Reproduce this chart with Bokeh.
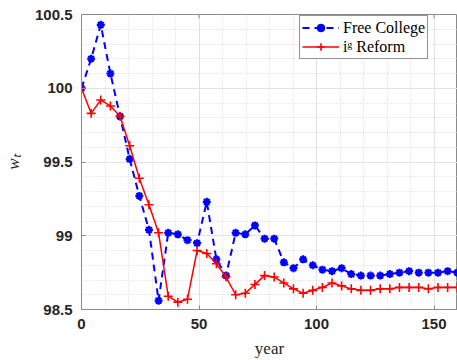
from bokeh.plotting import figure
from bokeh.models import FixedTicker, Range1d, Legend, LegendItem
from bokeh.embed import file_html
from bokeh.resources import INLINE

# ---- data ----
years = [0.0, 4.1, 8.2, 12.3, 16.4, 20.5, 24.6, 28.7, 32.8, 36.9, 41.0, 45.1, 49.2,
         53.3, 57.4, 61.5, 65.6, 69.7, 73.8, 77.9, 82.0, 86.1, 90.2, 94.3, 98.4,
         102.5, 106.6, 110.7, 114.8, 118.9, 123.0, 127.1, 131.2, 135.3, 139.4,
         143.5, 147.6, 151.7, 155.8, 159.9]
free_college = [100.00, 100.20, 100.43, 100.10, 99.81, 99.52, 99.27, 99.04, 98.56,
                99.02, 99.01, 98.97, 98.95, 99.23, 98.84, 98.73, 99.02, 99.01, 99.07,
                98.98, 98.98, 98.82, 98.78, 98.84, 98.80, 98.77, 98.76, 98.78, 98.74,
                98.73, 98.73, 98.73, 98.74, 98.75, 98.76, 98.75, 98.75, 98.75, 98.76,
                98.75]
ig_reform = [100.00, 99.83, 99.92, 99.88, 99.81, 99.61, 99.39, 99.21, 99.02, 98.59,
             98.55, 98.57, 98.90, 98.88, 98.81, 98.72, 98.60, 98.61, 98.67, 98.73,
             98.72, 98.68, 98.64, 98.61, 98.63, 98.65, 98.68, 98.66, 98.64, 98.63,
             98.63, 98.64, 98.64, 98.65, 98.65, 98.65, 98.64, 98.65, 98.65, 98.65]
x_ticks = [0, 50, 100, 150]
x_tick_labels = ["0", "50", "100", "150"]
x_minor = [10, 20, 30, 40, 60, 70, 80, 90, 110, 120, 130, 140, 160]
y_ticks = [98.5, 99.0, 99.5, 100.0, 100.5]
y_tick_labels = ["98.5", "99", "99.5", "100", "100.5"]
y_minor = [98.6, 98.7, 98.8, 98.9, 99.1, 99.2, 99.3, 99.4, 99.6, 99.7, 99.8, 99.9,
           100.1, 100.2, 100.3, 100.4]
series_names = ["Free College", "i\u1d4d Reform"]

TXT = "#262626"
AX = "#8a8a8a"
Y_LO, Y_HI = 98.5, 100.5

p = figure(width=457, height=360, output_backend="svg", toolbar_location=None,
           x_range=Range1d(0, 160), y_range=Range1d(Y_LO, Y_HI),
           min_border_left=76, min_border_right=0, min_border_top=14,
           min_border_bottom=48)
p.outline_line_color = AX
p.outline_line_width = 1

xt = FixedTicker(ticks=x_ticks, minor_ticks=x_minor)
yt = FixedTicker(ticks=y_ticks, minor_ticks=y_minor)

for ax, tk, labels in ((p.xaxis[0], xt, x_tick_labels), (p.yaxis[0], yt, y_tick_labels)):
    ax.ticker = tk
    ax.major_label_overrides = {float(t): l for t, l in zip(tk.ticks, labels)}
    ax.major_label_text_font = "Liberation Sans"
    ax.major_label_text_font_style = "bold"
    ax.major_label_text_font_size = "15px"
    ax.major_label_text_color = TXT
    ax.axis_line_color = AX
    ax.major_tick_in = 4
    ax.major_tick_out = 0
    ax.major_tick_line_color = AX
    ax.minor_tick_line_color = None
    ax.axis_label_text_font = "Liberation Serif"
    ax.axis_label_text_font_size = "17px"
    ax.axis_label_text_color = TXT
    ax.major_label_standoff = 5

p.xaxis[0].axis_label = "year"
p.xaxis[0].axis_label_text_font_style = "normal"
p.xaxis[0].axis_label_standoff = 7
p.yaxis[0].axis_label = "w\u209c"
p.yaxis[0].axis_label_text_font_style = "italic"
p.yaxis[0].axis_label_standoff = 9

# inward tick marks on the top edge of the box (4 px long)
tick_len = 4 * (Y_HI - Y_LO) / 298
p.segment(x0=x_ticks, x1=x_ticks, y0=[Y_HI] * len(x_ticks),
          y1=[Y_HI - tick_len] * len(x_ticks), line_color=AX, line_width=1)

for g, tk in ((p.xgrid[0], xt), (p.ygrid[0], yt)):
    g.ticker = tk
    g.grid_line_color = "#e2e2e2"
    g.grid_line_width = 1
    g.minor_grid_line_color = "#d6d6d6"
    g.minor_grid_line_dash = "1 2"
    g.minor_grid_line_width = 1

bl = p.line(years, free_college, line_color="#0000ff", line_width=2, line_dash="7 5")
bs = p.scatter(years, free_college, marker="asterisk", size=8, line_color="#0000ff",
               line_width=2.2)
bc = p.scatter(years, free_college, marker="circle", size=4, fill_color="#0000ff",
               line_color="#0000ff")
rl = p.line(years, ig_reform, line_color="#ff0000", line_width=1.5)
rs = p.scatter(years, ig_reform, marker="cross", size=9, line_color="#ff0000",
               line_width=1.6)

legend = Legend(items=[LegendItem(label=series_names[0], renderers=[bl, bs, bc]),
                       LegendItem(label=series_names[1], renderers=[rl, rs])],
                location=(218, 250), orientation="vertical",
                padding=2, spacing=0, margin=0,
                glyph_width=37, glyph_height=19, label_height=19,
                label_standoff=4,
                label_text_font="Liberation Serif", label_text_font_size="16px",
                label_text_color="#000000",
                border_line_color=TXT, border_line_width=1,
                background_fill_color="#ffffff", background_fill_alpha=1)
p.add_layout(legend, "center")

open("out.html", "w").write(file_html(p, INLINE))
